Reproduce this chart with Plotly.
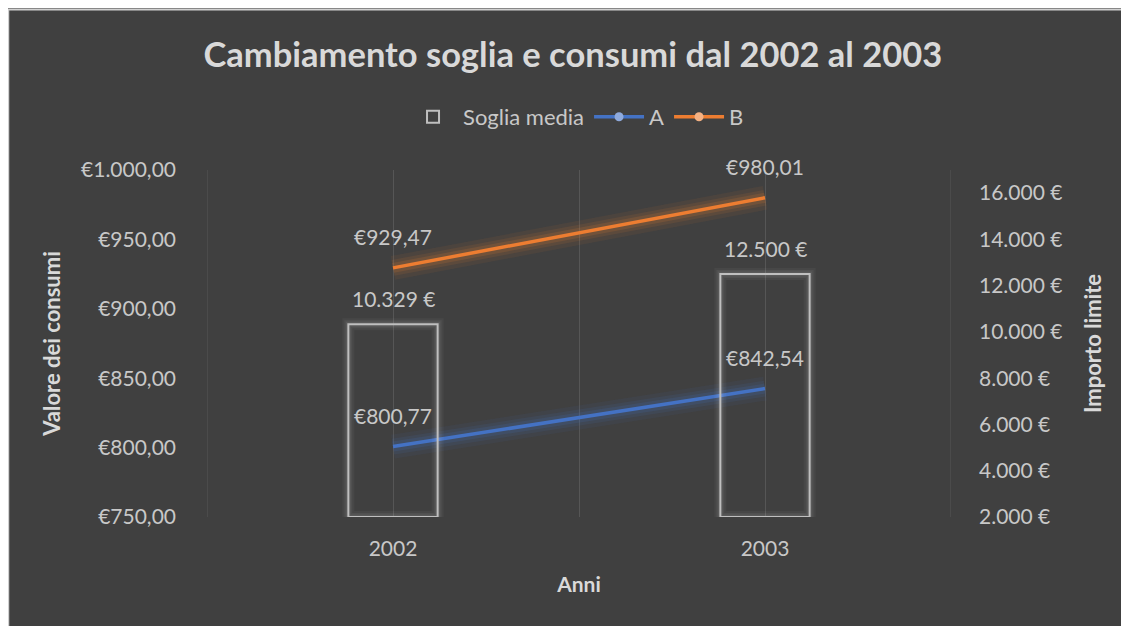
import plotly.graph_objects as go

# ---- data ----
categories = ["2002", "2003"]
soglia_media = [10329, 12500]
serie_a = [800.77, 842.54]
serie_b = [929.47, 980.01]

Y1_RANGE = [750, 1000]
Y2_RANGE = [2000, 17000]

xs = list(range(len(categories)))
X_RANGE = [-0.5, len(categories) - 0.5]

FONT = "Lato"
BG = "#404040"
TXT = "#d9d9d9"
TICK = "#c8c8c8"
BLUE = "#4472C4"
ORANGE = "#ED7D31"
GRID = "#565656"


def eur2(v):
    s = f"{v:,.2f}".replace(",", "X").replace(".", ",").replace("X", ".")
    return "€" + s


def eur0(v):
    s = f"{v:,.0f}".replace(",", ".")
    return s + " €"


# bars start at the secondary axis minimum (as in the original chart)
bar_base = [Y2_RANGE[0]] * len(soglia_media)
bar_len = [v - b for v, b in zip(soglia_media, bar_base)]

fig = go.Figure()

# bar glow + bars (secondary axis)
for w, a in ((12, 0.04), (8, 0.05), (5, 0.06)):
    fig.add_trace(go.Bar(x=xs, y=bar_len, base=bar_base, yaxis="y2", width=0.24,
                         marker=dict(color="rgba(0,0,0,0)",
                                     line=dict(color=f"rgba(255,255,255,{a})", width=w)),
                         showlegend=False, hoverinfo="skip"))
fig.add_trace(go.Bar(x=xs, y=bar_len, base=bar_base, yaxis="y2", width=0.24, name="Soglia media",
                     marker=dict(color="rgba(0,0,0,0)", line=dict(color="#bfbfbf", width=2))))

# line glows
for vals, rgb in ((serie_a, "68,114,196"), (serie_b, "237,125,49")):
    for w, a in ((24, 0.07), (16, 0.10), (10, 0.15)):
        fig.add_trace(go.Scatter(x=xs, y=vals, mode="lines", showlegend=False, hoverinfo="skip",
                                 line=dict(color=f"rgba({rgb},{a})", width=w)))

fig.add_trace(go.Scatter(x=xs, y=serie_a, mode="lines", name="A", showlegend=False,
                         line=dict(color=BLUE, width=3.5)))
fig.add_trace(go.Scatter(x=xs, y=serie_b, mode="lines", name="B", showlegend=False,
                         line=dict(color=ORANGE, width=3.5)))

# legend-only entries with markers
fig.add_trace(go.Scatter(x=[None], y=[None], mode="lines+markers", name="A",
                         line=dict(color=BLUE, width=3.5),
                         marker=dict(color="#8faadc", size=9)))
fig.add_trace(go.Scatter(x=[None], y=[None], mode="lines+markers", name="B",
                         line=dict(color=ORANGE, width=3.5),
                         marker=dict(color="#f4b183", size=9)))

LBL = dict(family=FONT, size=21, color=TICK)
annotations = []
for x, v in zip(xs, serie_a):
    annotations.append(dict(x=x, y=v, xref="x", yref="y", text=eur2(v), showarrow=False,
                            yshift=31, font=LBL))
for x, v in zip(xs, serie_b):
    annotations.append(dict(x=x, y=v, xref="x", yref="y", text=eur2(v), showarrow=False,
                            yshift=31, font=LBL))
for x, v in zip(xs, soglia_media):
    annotations.append(dict(x=x, y=v, xref="x", yref="y2", text=eur0(v), showarrow=False,
                            yshift=26, font=LBL))

shapes = [
    dict(type="line", xref="paper", yref="paper", x0=-0.27, x1=1.26, y0=1.4625, y1=1.4625,
         line=dict(color="#d0d0d0", width=2), layer="below"),
    dict(type="line", xref="paper", yref="paper", x0=-0.2668, x1=-0.2668, y0=-0.4, y1=1.4625,
         line=dict(color="#d0d0d0", width=1.5), layer="below"),
]
# category-boundary gridlines at the plot edges
for xe in X_RANGE:
    shapes.append(dict(type="line", xref="x", yref="paper", x0=xe, x1=xe, y0=0, y1=1,
                       line=dict(color=GRID, width=1), layer="below"))

fig.update_layout(
    width=1129, height=626,
    margin=dict(l=199, r=186, t=162, b=117),
    paper_bgcolor=BG,
    plot_bgcolor="rgba(0,0,0,0)",
    separators=",.",
    barmode="overlay",
    font=dict(family=FONT, color=TXT, size=21),
    title=dict(text="<b>Cambiamento soglia e consumi dal 2002 al 2003</b>",
               x=0.5004, xref="container", xanchor="center",
               y=1 - 47 / 626, yref="container", yanchor="middle",
               font=dict(family=FONT, size=34.5, color=TXT)),
    legend=dict(orientation="h", x=0.496, xanchor="center", y=1.153, yanchor="middle",
                font=dict(family=FONT, size=22, color=TICK), bgcolor="rgba(0,0,0,0)",
                traceorder="normal", itemwidth=50),
    xaxis=dict(range=X_RANGE, tickvals=xs, ticktext=categories,
               showgrid=True, gridcolor=GRID, gridwidth=1,
               minor=dict(tickvals=[0.5], showgrid=True, gridcolor=GRID,
                          gridwidth=1, ticks=""),
               zeroline=False, showline=False, ticks="",
               ticklabelstandoff=17,
               tickfont=dict(family=FONT, size=21, color=TICK),
               title=dict(text="<b>Anni</b>", standoff=18,
                          font=dict(family=FONT, size=21, color=TXT))),
    yaxis=dict(range=Y1_RANGE, dtick=50, tick0=750, tickprefix="€", tickformat=",.2f",
               showgrid=False, zeroline=False, showline=False, ticks="",
               ticklabelstandoff=30,
               tickfont=dict(family=FONT, size=21, color=TICK),
               title=dict(text="<b>Valore dei consumi</b>", standoff=14,
                          font=dict(family=FONT, size=22, color=TXT))),
    yaxis2=dict(range=Y2_RANGE, dtick=2000, tick0=0, ticksuffix=" €", tickformat=",.0f",
                overlaying="y", side="right",
                showgrid=False, zeroline=False, showline=False, ticks="",
                ticklabelstandoff=27,
                tickfont=dict(family=FONT, size=21, color=TICK),
                title=dict(text="<b>Importo limite</b>", standoff=24,
                           font=dict(family=FONT, size=22, color=TXT))),
    annotations=annotations,
    shapes=shapes,
)

fig.write_html("out.html")
